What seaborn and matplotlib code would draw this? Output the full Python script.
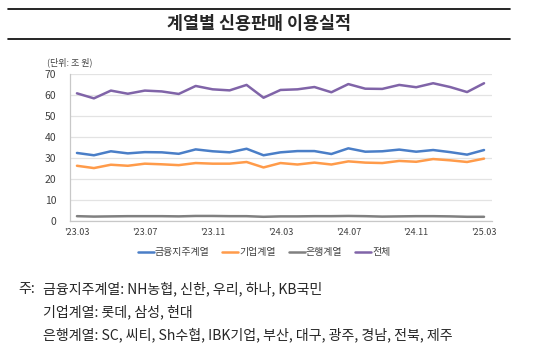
import numpy as np
import pandas as pd
import seaborn as sns
import matplotlib.pyplot as plt
from matplotlib.lines import Line2D

months = ["'23.03", "'23.04", "'23.05", "'23.06", "'23.07", "'23.08", "'23.09",
          "'23.10", "'23.11", "'23.12", "'24.01", "'24.02", "'24.03", "'24.04",
          "'24.05", "'24.06", "'24.07", "'24.08", "'24.09", "'24.10", "'24.11",
          "'24.12", "'25.01", "'25.02", "'25.03"]

holding = [32.4, 31.3, 33.2, 32.2, 32.8, 32.7, 32.0, 34.1, 33.2, 32.7, 34.4, 31.3,
           32.7, 33.3, 33.3, 31.9, 34.6, 33.0, 33.2, 34.0, 33.0, 33.8, 32.8, 31.6, 33.8]
corporate = [26.3, 25.2, 26.8, 26.3, 27.3, 27.0, 26.6, 27.6, 27.3, 27.3, 28.1, 25.5,
             27.6, 26.9, 27.8, 26.9, 28.4, 27.8, 27.6, 28.6, 28.2, 29.5, 28.9, 28.1, 29.7]
bank = [2.3, 2.1, 2.2, 2.3, 2.3, 2.3, 2.2, 2.4, 2.4, 2.3, 2.3, 2.0, 2.2,
        2.2, 2.3, 2.3, 2.4, 2.3, 2.1, 2.2, 2.3, 2.3, 2.2, 2.0, 2.0]
total = [60.8, 58.4, 62.1, 60.6, 62.1, 61.7, 60.5, 64.3, 62.7, 62.2, 64.8, 58.7,
         62.4, 62.7, 63.8, 61.3, 65.2, 63.0, 62.9, 64.8, 63.7, 65.6, 63.8, 61.4, 65.6]

series_names = ['금융지주계열', '기업계열', '은행계열', '전체']
colors = ['#4A7EC7', '#FF9B4A', '#808080', '#8064A8']
tick_months = months[::4]

df = pd.DataFrame({'idx': list(range(len(months))) * 4,
                   'series': np.repeat(series_names, len(months)),
                   'value': holding + corporate + bank + total})

sns.set_theme(style='white')
plt.rcParams['font.family'] = ['Noto Sans CJK KR', 'DejaVu Sans']

fig = plt.figure(figsize=(5.44, 3.55), dpi=100)
ax = fig.add_axes([70 / 544, 1 - 221 / 355, 422 / 544, 147 / 355])

sns.lineplot(data=df, x='idx', y='value', hue='series', hue_order=series_names,
             palette=colors, linewidth=1.8, legend=False, ax=ax)

ax.set_xlim(-0.41, 24.47)
ax.set_ylim(0, 70)
ax.set_yticks(range(0, 71, 10))
ax.set_xticks(range(0, len(months), 4))
ax.set_xticklabels(tick_months, fontsize=6.5, color='#404040')
ax.tick_params(axis='y', labelsize=7.5, colors='#404040', length=0, pad=10)
ax.tick_params(axis='x', length=0, pad=5)
ax.set_xlabel('')
ax.set_ylabel('')
ax.grid(axis='y', color='#E3E3E3', linewidth=0.9)
ax.set_axisbelow(True)
for s in ['top', 'right']:
    ax.spines[s].set_visible(False)
for s in ['left', 'bottom']:
    ax.spines[s].set_color('#C8C8C8')
    ax.spines[s].set_linewidth(0.9)

handles = [Line2D([0], [0], color=c, lw=1.8) for c in colors]
fig.legend(handles, series_names, loc='center', bbox_to_anchor=(264 / 544, 1 - 252 / 355),
           ncol=4, frameon=False, fontsize=7.2, handlelength=1.6, handletextpad=0.1,
           columnspacing=1.3, labelcolor='#404040')

# title box
fig.add_artist(Line2D([8 / 544, 510 / 544], [1 - 9 / 355, 1 - 9 / 355], color='black', lw=1.2))
fig.add_artist(Line2D([8 / 544, 510 / 544], [1 - 39 / 355, 1 - 39 / 355], color='black', lw=1.2))
fig.text(259 / 544, 1 - 24 / 355, '계열별 신용판매 이용실적', ha='center', va='center',
         fontsize=12.5, fontweight='bold')
fig.text(47 / 544, 1 - 62 / 355, '(단위: 조 원)', ha='left', va='center',
         fontsize=6.5, color='#404040')

# footnotes
fs = 10.1
fig.text(18 / 544, 1 - 289 / 355, '주:', ha='left', va='center', fontsize=fs)
fig.text(43 / 544, 1 - 289 / 355, '금융지주계열: NH농협, 신한, 우리, 하나, KB국민',
         ha='left', va='center', fontsize=fs)
fig.text(43 / 544, 1 - 312 / 355, '기업계열: 롯데, 삼성, 현대',
         ha='left', va='center', fontsize=fs)
fig.text(43 / 544, 1 - 335 / 355, '은행계열: SC, 씨티, Sh수협, IBK기업, 부산, 대구, 광주, 경남, 전북, 제주',
         ha='left', va='center', fontsize=fs)

fig.savefig('out.png', dpi=100)
